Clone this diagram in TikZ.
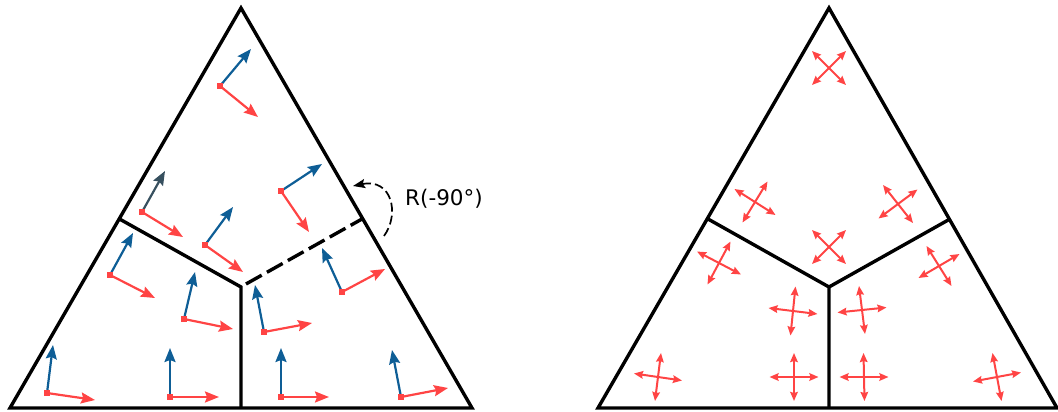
\documentclass[tikz,border=0pt]{standalone}
\usepackage{fontspec}
\setmainfont{DejaVu Sans}
\usetikzlibrary{arrows.meta,calc}
\definecolor{axred}{RGB}{255,68,68}
\definecolor{axblue}{RGB}{14,94,150}
\definecolor{axdark}{RGB}{55,80,95}
\tikzset{
  tri/.style={line width=3.4pt, line join=miter},
  axarrow/.style={line width=2.2pt, -{Stealth[length=14pt,width=11pt,inset=2pt]}},
  crossarrow/.style={line width=2pt, axred, {Stealth[length=9pt,width=7.5pt,inset=1pt]}-{Stealth[length=9pt,width=7.5pt,inset=1pt]}},
  rotarrow/.style={line width=1.7pt, dash pattern=on 9pt off 4pt, -{Stealth[length=12pt,width=9pt,inset=2pt]}},
  lbl/.style={font=\fontsize{21.5}{24}\selectfont, inner sep=0pt, anchor=west}
}
\newcommand{\drawframe}[4]{%
  \draw[axarrow,#4] (#1) -- (#2);
  \draw[axarrow,axred] (#1) -- (#3);
  \fill[axred] (#1) ++(-2.8,-2.8) rectangle ++(5.6,5.6);
}
\newcommand{\drawcross}[3]{%
  \draw[crossarrow] ($(#1)-(#2)$) -- ($(#1)+(#2)$);
  \draw[crossarrow] ($(#1)-(#3)$) -- ($(#1)+(#3)$);
}
\begin{document}
\begin{tikzpicture}[x=1pt,y=-1pt]
\useasboundingbox (0,0) rectangle (1058,412);
% ---------- left triangle ----------
\coordinate (LA) at (241,8);
\coordinate (LB) at (10,408);
\coordinate (LC) at (472,408);
\coordinate (LJ) at (241,287);
\coordinate (LL) at (119.5,219);
\coordinate (LR) at (362,219);
\coordinate (LM) at (241,408);
\coordinate (LD) at (246,284);
\draw[tri] (LA) -- (LB) -- (LC) -- cycle;
\draw[tri] (LL) -- (LJ) -- (LM);
\draw[tri, dash pattern=on 18pt off 6pt] (LD) -- (LR);
% frames
\drawframe{220,86}{251,49}{258,117}{axblue}
\drawframe{142,212}{165,171}{183,237}{axdark}
\drawframe{205,245}{233,207}{243,272}{axblue}
\drawframe{281,191}{322,164}{309,232}{axblue}
\drawframe{110,275}{133,233}{155,298}{axblue}
\drawframe{184,319}{195,272}{233,329}{axblue}
\drawframe{47,393}{53,345}{95,400}{axblue}
\drawframe{170,397}{170,348}{219,397}{axblue}
\drawframe{264,332}{255,285}{312,323}{axblue}
\drawframe{342,292}{322,248}{385,269}{axblue}
\drawframe{281,397}{281,348}{329,397}{axblue}
\drawframe{401,397}{392,350}{448,388}{axblue}
% rotation annotation
\coordinate (RS) at (384,236);
\coordinate (RE) at (353,186);
\draw[rotarrow] (RS) .. controls (400,214) and (392,178) .. (RE);
\node[lbl] (RL) at (405,199) {R(-90°)};
% ---------- right triangle ----------
\coordinate (RA) at (829,8);
\coordinate (RB) at (598,408);
\coordinate (RC) at (1057,408);
\coordinate (RJ) at (829,287);
\coordinate (RLt) at (708,219);
\coordinate (RRt) at (950,219);
\coordinate (RM) at (829,408);
\draw[tri] (RA) -- (RB) -- (RC) -- cycle;
\draw[tri] (RLt) -- (RJ) -- (RM);
\draw[tri] (RJ) -- (RRt);
% crosses
\drawcross{829,68}{17,17}{17,-17}
\drawcross{755,202}{20.5,13}{-12.5,20.5}
\drawcross{898,204}{15,19}{-19.5,14.5}
\drawcross{829,247}{17,17}{17,-17}
\drawcross{719,263}{22,11.5}{-11.5,21.5}
\drawcross{793,311}{24.5,3}{-2.5,24.5}
\drawcross{658,377}{24,3.5}{-3,24}
\drawcross{794,377}{24.5,0}{0,24}
\drawcross{862,310}{24.5,-2.5}{3,24}
\drawcross{939,266}{20.5,-12}{12.5,20}
\drawcross{864,377}{24.5,0}{0.5,24}
\drawcross{997,377}{24,-4.5}{4.5,24}
\end{tikzpicture}
\end{document}
